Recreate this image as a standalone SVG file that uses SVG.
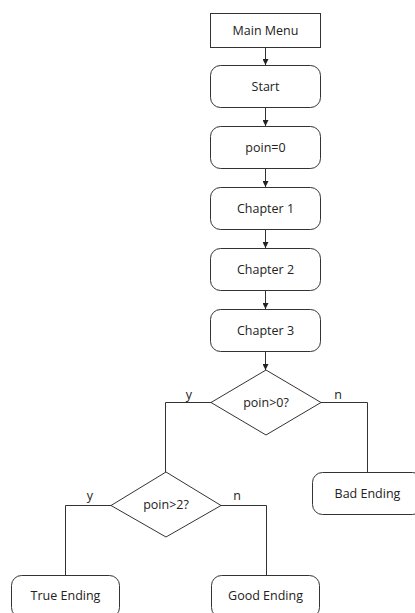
<svg xmlns="http://www.w3.org/2000/svg" width="415" height="613" viewBox="0 0 415 613">
<style>
.box{fill:#fff;stroke:#333;stroke-width:1}
.lbl{font-family:"Open Sans","Liberation Sans",sans-serif;font-size:12.5px;fill:#222;text-anchor:middle;dominant-baseline:central}
.con{fill:none;stroke:#333;stroke-width:1}
</style>
<defs>
<marker id="arr" viewBox="0 0 6 6" refX="6" refY="3" markerWidth="6" markerHeight="6" markerUnits="userSpaceOnUse" orient="auto">
<path d="M0,0 L6,3 L0,6 z" fill="#222"/>
</marker>
</defs>
<rect width="415" height="613" fill="#fff"/>
<g id="connectors">
<line class="con" x1="265.5" y1="47" x2="265.5" y2="65" marker-end="url(#arr)"/>
<line class="con" x1="265.5" y1="108" x2="265.5" y2="126" marker-end="url(#arr)"/>
<line class="con" x1="265.5" y1="169" x2="265.5" y2="187" marker-end="url(#arr)"/>
<line class="con" x1="265.5" y1="230" x2="265.5" y2="248" marker-end="url(#arr)"/>
<line class="con" x1="265.5" y1="291" x2="265.5" y2="309" marker-end="url(#arr)"/>
<line class="con" x1="265.5" y1="352" x2="265.5" y2="370" marker-end="url(#arr)"/>
<polyline class="con" points="211,402.5 165.5,402.5 165.5,472"/>
<polyline class="con" points="321,402.5 367.5,402.5 367.5,472"/>
<polyline class="con" points="111,505.5 65.5,505.5 65.5,575"/>
<polyline class="con" points="221,505.5 266.5,505.5 266.5,575"/>
<text class="lbl" x="189" y="394">y</text>
<text class="lbl" x="338" y="394">n</text>
<text class="lbl" x="90" y="495">y</text>
<text class="lbl" x="237" y="495">n</text>
</g>
<g id="main-menu"><rect class="box" x="210.5" y="13.5" width="110" height="34"/><text class="lbl" x="265.5" y="30.5">Main Menu</text></g>
<g id="start"><rect class="box" x="210.5" y="65.5" width="110" height="42" rx="10"/><text class="lbl" x="265.5" y="86.5">Start</text></g>
<g id="poin0"><rect class="box" x="210.5" y="126.5" width="110" height="42" rx="10"/><text class="lbl" x="265.5" y="147.5">poin=0</text></g>
<g id="chapter1"><rect class="box" x="210.5" y="187.5" width="110" height="42" rx="10"/><text class="lbl" x="265.5" y="208.5">Chapter 1</text></g>
<g id="chapter2"><rect class="box" x="210.5" y="248.5" width="110" height="42" rx="10"/><text class="lbl" x="265.5" y="269.5">Chapter 2</text></g>
<g id="chapter3"><rect class="box" x="210.5" y="309.5" width="110" height="42" rx="10"/><text class="lbl" x="265.5" y="330.5">Chapter 3</text></g>
<g id="decision1"><polygon class="box" points="266,370 321,402.5 266,435 211,402.5"/><text class="lbl" x="266" y="402.5">poin&gt;0?</text></g>
<g id="bad-ending"><rect class="box" x="312.5" y="472.5" width="110" height="42" rx="10"/><text class="lbl" x="367.5" y="493.5">Bad Ending</text></g>
<g id="decision2"><polygon class="box" points="166,472 221,505.5 166,537 111,505.5"/><text class="lbl" x="166" y="504.5">poin&gt;2?</text></g>
<g id="true-ending"><rect class="box" x="11.5" y="575.5" width="108" height="42" rx="10"/><text class="lbl" x="65.5" y="595">True Ending</text></g>
<g id="good-ending"><rect class="box" x="211.5" y="575.5" width="108" height="42" rx="10"/><text class="lbl" x="265.5" y="595">Good Ending</text></g>
</svg>
